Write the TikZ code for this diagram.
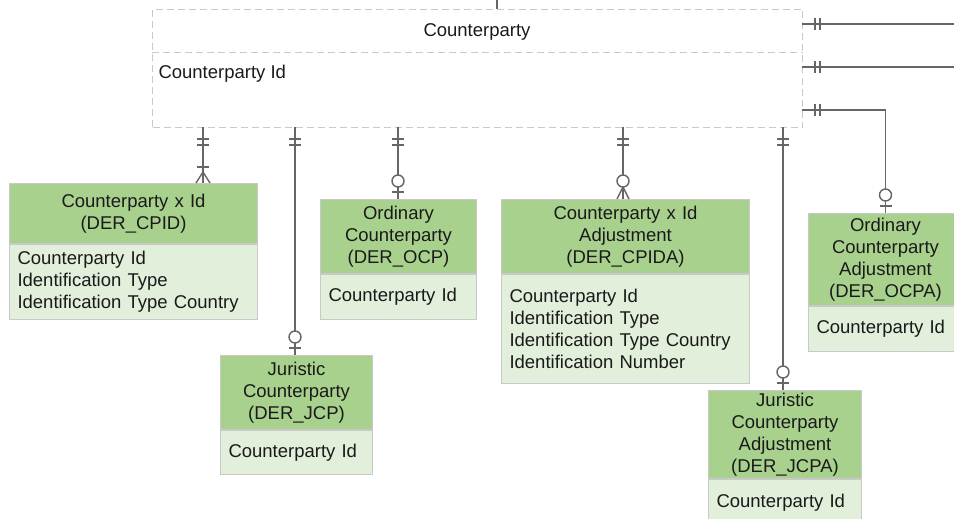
\documentclass[tikz,border=0pt]{standalone}
\usepackage{fontspec}
\setmainfont{Liberation Sans}
\usetikzlibrary{calc}
\definecolor{hdrgreen}{HTML}{A9D18E}
\definecolor{bdygreen}{HTML}{E2EFDA}
\definecolor{brdgray}{HTML}{C9C9C9}
\definecolor{lnkgray}{HTML}{666666}
\definecolor{txtgray}{HTML}{1A1A1A}
\newcommand{\erentity}[8]{%
  \node[hdrbox, text width=#4pt, minimum height=#5pt] (#1) at (#2,#3) {#7};
  \pgfmathsetmacro\erbodyw{#4-16}
  \node[bodybox, text width=\erbodyw pt, minimum height=#6pt] (#1-b) at (#1.south west) {#8};
}
\begin{document}
\begin{tikzpicture}[x=1pt,y=-1pt,
  every node/.style={font=\fontsize{18.5}{22}\selectfont, text=txtgray},
  hdrbox/.style={draw=brdgray, fill=hdrgreen, line width=1pt, anchor=north west, align=center, inner sep=0pt},
  bodybox/.style={draw=brdgray, fill=bdygreen, line width=1pt, anchor=north west, align=left, inner xsep=8pt, inner ysep=0pt},
  rel/.style={draw=lnkgray, line width=1.4pt},
  erbar/.style={draw=lnkgray, line width=1.4pt},
  ercirc/.style={draw=lnkgray, line width=1.4pt, fill=white},
  dashbox/.style={draw=brdgray, line width=1pt, dash pattern=on 7pt off 4pt}
]
\useasboundingbox (0,0) rectangle (954,519);
\clip (0,0) rectangle (954,519);

% main entity
\node[dashbox, minimum width=650pt, minimum height=118pt, inner sep=0pt, anchor=north west] (cp) at (152,9) {};
\coordinate (div) at (0,53);
\draw[dashbox] (cp.west |- div) -- (cp.east |- div);
\node (cptitle) at (477,32) {Counterparty};
\node[anchor=west] (cpattr) at (155,74) {Counterparty Id};

% child entities
\erentity{cpid}{9}{183}{248}{60}{75}{Counterparty x Id\\(DER\_CPID)}{Counterparty Id\\Identification Type\\Identification Type Country}
\erentity{jcp}{220}{355}{152}{74}{44}{Juristic\\Counterparty\\(DER\_JCP)}{Counterparty Id}
\erentity{ocp}{320}{199}{156}{74}{45}{Ordinary\\Counterparty\\(DER\_OCP)}{Counterparty Id}
\erentity{cpida}{501}{199}{248}{74}{109}{Counterparty x Id\\Adjustment\\(DER\_CPIDA)}{Counterparty Id\\Identification Type\\Identification Type Country\\Identification Number}
\erentity{ocpa}{808}{213}{154}{92}{45}{Ordinary\\Counterparty\\Adjustment\\(DER\_OCPA)}{Counterparty Id}
\erentity{jcpa}{708}{390}{153}{88}{46}{Juristic\\Counterparty\\Adjustment\\(DER\_JCPA)}{Counterparty Id}

% top connector
\coordinate (t0) at (497,0);
\draw[rel] (t0) -- (t0 |- cp.north);

% connector start points on the main entity
\coordinate (s1) at (203,127);
\coordinate (s2) at (295,127);
\coordinate (s3) at (398,127);
\coordinate (s4) at (623,127);
\coordinate (s5) at (783,127);
\coordinate (r1) at (802,24);
\coordinate (r2) at (802,67);
\coordinate (r3) at (802,110);
\coordinate (r1e) at (960,24);
\coordinate (r2e) at (960,67);

% end points
\coordinate (e1) at (s1 |- cpid.north);
\coordinate (e2) at (s2 |- jcp.north);
\coordinate (e3) at (s3 |- ocp.north);
\coordinate (e4) at (s4 |- cpida.north);
\coordinate (e5) at (s5 |- jcpa.north);
\coordinate (e6) at (ocpa.north);

% lines
\draw[rel] (s1) -- (e1);
\draw[rel] (s2) -- (e2);
\draw[rel] (s3) -- (e3);
\draw[rel] (s4) -- (e4);
\draw[rel] (s5) -- (e5);
\draw[rel] (r1) -- (r1e);
\draw[rel] (r2) -- (r2e);
\draw[rel] (r3) -- (r3 -| e6) -- (e6);

% one-and-only-one marks at the main entity
\foreach \s in {s1,s2,s3,s4,s5}{
  \draw[erbar] ($(\s)+(-6,12)$) -- ++(12,0);
  \draw[erbar] ($(\s)+(-6,18)$) -- ++(12,0);
}
\foreach \s in {r1,r2,r3}{
  \draw[erbar] ($(\s)+(13,-6)$) -- ++(0,12);
  \draw[erbar] ($(\s)+(18,-6)$) -- ++(0,12);
}

% one-or-many (cpid)
\draw[erbar] ($(e1)+(-6,-16)$) -- ++(12,0);
\draw[erbar] ($(e1)+(-7,0)$) -- ($(e1)+(0,-11)$) -- ($(e1)+(7,0)$);

% zero-or-many (cpida)
\draw[erbar] ($(e4)+(-6,0)$) -- ($(e4)+(0,-12)$) -- ($(e4)+(6,0)$);
\draw[ercirc] ($(e4)+(0,-18)$) circle (6pt);

% zero-or-one (jcp, ocp, jcpa, ocpa)
\foreach \e in {e2,e3,e5,e6}{
  \draw[erbar] ($(\e)+(-6,-7)$) -- ++(12,0);
  \draw[ercirc] ($(\e)+(0,-18)$) circle (6pt);
}
\end{tikzpicture}
\end{document}
